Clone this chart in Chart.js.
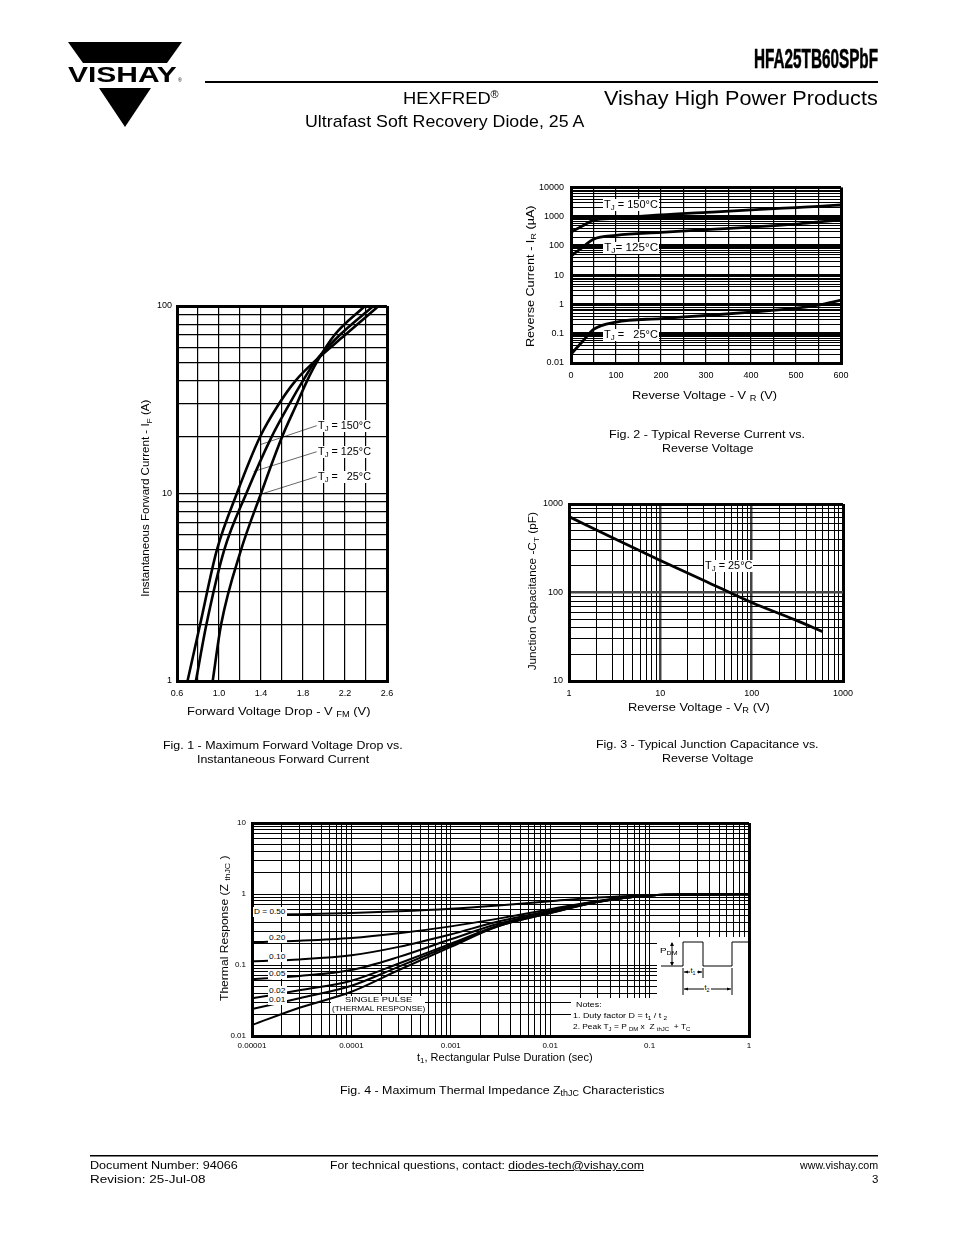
<!DOCTYPE html>
<html>
<head>
<meta charset="utf-8">
<title>HFA25TB60SPbF</title>
<script src="https://cdn.jsdelivr.net/npm/chart.js@4.4.1/dist/chart.umd.min.js"></script>
<style>
  html, body { margin: 0; padding: 0; background: #fff; }
  body { position: relative; width: 954px; height: 1235px; overflow: hidden;
         font-family: "Liberation Sans", Arial, Helvetica, sans-serif; color: #000; }
  canvas { position: absolute; }
  svg.deco { position: absolute; left: 0; top: 0; }
  .t { position: absolute; white-space: nowrap; line-height: 1; }
  .t sub { font-size: 0.72em; vertical-align: -0.3em; line-height: 0; }
  .t sup { font-size: 0.6em; vertical-align: 0.6em; line-height: 0; }
  .bg { background: #fff; padding: 1px 1px; }
</style>
</head>
<body>

<canvas id="fig1"></canvas>
<canvas id="fig2"></canvas>
<canvas id="fig3"></canvas>
<canvas id="fig4"></canvas>

<svg class="deco" width="954" height="1235">
  <!-- logo -->
  <polygon points="68,42 182,42 167,63 83,63" fill="#000"/>
  <polygon points="99,88 151,88 125,127" fill="#000"/>
  <!-- rules -->
  <rect x="205" y="81" width="673" height="2" fill="#000"/>
  <rect x="90" y="1155" width="788" height="1.5" fill="#000"/>
  <!-- pulse sketch -->
  <g stroke="#000" stroke-width="1" fill="none">
    <polyline points="661,966 683,966 683,942 703,942 703,966 732,966 732,942 748,942"/>
    <line x1="672" y1="943" x2="672" y2="965"/>
    <line x1="683" y1="968" x2="683" y2="995"/>
    <line x1="703" y1="968" x2="703" y2="978"/>
    <line x1="732" y1="968" x2="732" y2="995"/>
    <line x1="684" y1="972" x2="702" y2="972"/>
    <line x1="684" y1="989" x2="731" y2="989"/>
  </g>
  <g fill="#000">
    <polygon points="672,942 670,946 674,946"/>
    <polygon points="672,966 670,962 674,962"/>
    <polygon points="684,972 688,970.5 688,973.5"/>
    <polygon points="702,972 698,970.5 698,973.5"/>
    <polygon points="684,989 688,987.5 688,990.5"/>
    <polygon points="731,989 727,987.5 727,990.5"/>
  </g>
</svg>

<!-- header -->
<div class="t" style="font-size:22px;font-weight:bold" data-x="68" data-y="75" data-w="109">VISHAY</div>
<div class="t" style="font-size:5px" data-x="178" data-y="80">®</div>
<div class="t" style="font-size:27px;font-weight:bold;-webkit-text-stroke:0.6px #000" data-x="878" data-y="59" data-w="124" data-a="r">HFA25TB60SPbF</div>
<div class="t" style="font-size:21px" data-x="878" data-y="97" data-w="274" data-a="r">Vishay High Power Products</div>
<div class="t" style="font-size:17px" data-x="403" data-y="98" data-w="96">HEXFRED<sup>®</sup></div>
<div class="t" style="font-size:17px" data-x="305" data-y="121" data-w="279">Ultrafast Soft Recovery Diode, 25 A</div>

<!-- fig 1 texts -->
<div class="t" style="font-size:11.5px" data-x="278" data-y="712" data-w="183" data-a="c">Forward Voltage Drop - V <sub>FM</sub> (V)</div>
<div class="t" style="font-size:10.5px" data-x="145" data-y="498" data-w="197" data-r="1">Instantaneous Forward Current - I<sub>F</sub> (A)</div>
<div class="t bg" style="font-size:10px" data-x="317" data-y="426" data-w="55">T<sub>J</sub> = 150°C</div>
<div class="t bg" style="font-size:10px" data-x="317" data-y="452" data-w="55">T<sub>J</sub> = 125°C</div>
<div class="t bg" style="font-size:10px" data-x="317" data-y="477" data-w="55">T<sub>J</sub> = &nbsp; 25°C</div>
<div class="t" style="font-size:11.5px" data-x="283" data-y="746" data-w="240" data-a="c">Fig. 1 - Maximum Forward Voltage Drop vs.</div>
<div class="t" style="font-size:11.5px" data-x="283" data-y="760" data-w="172" data-a="c">Instantaneous Forward Current</div>

<!-- fig 2 texts -->
<div class="t" style="font-size:11.5px" data-x="704" data-y="396" data-w="145" data-a="c">Reverse Voltage - V <sub>R</sub> (V)</div>
<div class="t" style="font-size:10.5px" data-x="530" data-y="276" data-w="142" data-r="1">Reverse Current - I<sub>R</sub> (µA)</div>
<div class="t bg" style="font-size:10px" data-x="603" data-y="205" data-w="56">T<sub>J</sub> = 150°C</div>
<div class="t bg" style="font-size:10px" data-x="603" data-y="248" data-w="56">T<sub>J</sub>= 125°C</div>
<div class="t bg" style="font-size:10px" data-x="603" data-y="335" data-w="56">T<sub>J</sub> = &nbsp; 25°C</div>
<div class="t" style="font-size:11.5px" data-x="707" data-y="435" data-w="196" data-a="c">Fig. 2 - Typical Reverse Current vs.</div>
<div class="t" style="font-size:11.5px" data-x="707" data-y="449" data-w="91" data-a="c">Reverse Voltage</div>

<!-- fig 3 texts -->
<div class="t" style="font-size:11.5px" data-x="699" data-y="708" data-w="142" data-a="c">Reverse Voltage - V<sub>R</sub> (V)</div>
<div class="t" style="font-size:10.5px" data-x="532" data-y="591" data-w="158" data-r="1">Junction Capacitance -C<sub>T</sub> (pF)</div>
<div class="t bg" style="font-size:10px" data-x="704" data-y="566" data-w="49">T<sub>J</sub> = 25°C</div>
<div class="t" style="font-size:11.5px" data-x="707" data-y="745" data-w="223" data-a="c">Fig. 3 - Typical Junction Capacitance vs.</div>
<div class="t" style="font-size:11.5px" data-x="707" data-y="759" data-w="91" data-a="c">Reverse Voltage</div>

<!-- fig 4 texts -->
<div class="t" style="font-size:10.5px" data-x="505" data-y="1057" data-w="176" data-a="c">t<sub>1</sub>, Rectangular Pulse Duration (sec)</div>
<div class="t" style="font-size:10.5px" data-x="224" data-y="928" data-w="145" data-r="1">Thermal Response (Z <sub>thJC</sub> )</div>
<div class="t bg" style="font-size:7.5px" data-x="253" data-y="912" data-w="34">D = 0.50</div>
<div class="t bg" style="font-size:7.5px" data-x="268" data-y="938" data-w="19">0.20</div>
<div class="t bg" style="font-size:7.5px" data-x="268" data-y="957" data-w="19">0.10</div>
<div class="t bg" style="font-size:7.5px" data-x="268" data-y="974" data-w="19">0.05</div>
<div class="t bg" style="font-size:7.5px" data-x="268" data-y="991" data-w="19">0.02</div>
<div class="t bg" style="font-size:7.5px" data-x="268" data-y="1000" data-w="19">0.01</div>
<div class="t" style="font-size:7.5px" data-x="378" data-y="1000" data-w="67" data-a="c">SINGLE PULSE</div>
<div class="t" style="font-size:7.5px" data-x="378" data-y="1009" data-w="93" data-a="c">(THERMAL RESPONSE)</div>
<div class="t" style="font-size:7.5px" data-x="576" data-y="1005" data-w="26">Notes:</div>
<div class="t" style="font-size:7.5px" data-x="573" data-y="1016" data-w="94">1. Duty factor D = t<sub>1</sub> / t <sub>2</sub></div>
<div class="t" style="font-size:7.5px" data-x="573" data-y="1027" data-w="117">2. Peak T<sub>J</sub> = P <sub>DM</sub> x &nbsp;Z <sub>thJC</sub> &nbsp;+ T<sub>C</sub></div>
<div class="t" style="font-size:7.5px" data-x="660" data-y="951" data-w="17">P<sub>DM</sub></div>
<div class="t bg" style="font-size:7.5px" data-x="693" data-y="971" data-a="c">t<sub>1</sub></div>
<div class="t bg" style="font-size:7.5px" data-x="707" data-y="988" data-a="c">t<sub>2</sub></div>
<div class="t" style="font-size:11.5px" data-x="502" data-y="1091" data-w="325" data-a="c">Fig. 4 - Maximum Thermal Impedance Z<sub>thJC</sub> Characteristics</div>

<!-- footer -->
<div class="t" style="font-size:11.5px" data-x="90" data-y="1166" data-w="148">Document Number: 94066</div>
<div class="t" style="font-size:11.5px" data-x="90" data-y="1180" data-w="115">Revision: 25-Jul-08</div>
<div class="t" style="font-size:11.5px" data-x="330" data-y="1166" data-w="314">For technical questions, contact: <u>diodes-tech@vishay.com</u></div>
<div class="t" style="font-size:11.5px" data-x="878" data-y="1166" data-w="78" data-a="r">www.vishay.com</div>
<div class="t" style="font-size:11.5px" data-x="878" data-y="1180" data-a="r">3</div>

<script>
// ---------- Fig. 1 : forward voltage drop vs. forward current ----------
const fig1Current = [1, 2, 5, 10, 20, 30, 40, 50, 70, 100];
const fig1V150 = [0.70, 0.82, 0.98, 1.17, 1.39, 1.57, 1.73, 1.90, 2.20, 2.52];
const fig1V125 = [0.78, 0.88, 1.05, 1.26, 1.50, 1.67, 1.80, 1.91, 2.15, 2.47];
const fig1V25  = [0.94, 1.02, 1.21, 1.40, 1.60, 1.74, 1.84, 1.93, 2.10, 2.39];
const fig1XGrid = [0.6, 0.8, 1.0, 1.2, 1.4, 1.6, 1.8, 2.0, 2.2, 2.4, 2.6];
const fig1XLabels = ['0.6', '1.0', '1.4', '1.8', '2.2', '2.6'];
const fig1YLabels = ['1', '10', '100'];
// leader lines: label anchor (V, I) -> point on curve (V, I)
const fig1Leaders = [[1.93, 23.0, 1.39, 18.2], [1.93, 16.7, 1.33, 13.1], [1.93, 12.3, 1.41, 9.96]];

// ---------- Fig. 2 : reverse current vs. reverse voltage ----------
const fig2Voltage = [0, 25, 50, 100, 200, 300, 400, 500, 550, 600];
const fig2I150 = [300, 480, 750, 880, 1150, 1400, 1700, 2050, 2250, 2500];
const fig2I125 = [45, 88, 170, 230, 290, 360, 440, 560, 660, 780];
const fig2I25  = [0.02, 0.053, 0.14, 0.25, 0.33, 0.42, 0.55, 0.75, 0.95, 1.4];
const fig2XGrid = [0, 50, 100, 150, 200, 250, 300, 350, 400, 450, 500, 550, 600];
const fig2XLabels = ['0', '100', '200', '300', '400', '500', '600'];
const fig2YLabels = ['0.01', '0.1', '1', '10', '100', '1000', '10000'];

// ---------- Fig. 3 : junction capacitance vs. reverse voltage ----------
const fig3Voltage = [1, 3, 10, 30, 100, 300, 600];
const fig3Cap = [720, 415, 230, 137, 77, 49, 36];
const fig3XLabels = ['1', '10', '100', '1000'];
const fig3YLabels = ['10', '100', '1000'];

// ---------- Fig. 4 : thermal impedance ----------
const fig4Time = [1e-5, 3e-5, 1e-4, 3e-4, 1e-3, 3e-3, 1e-2, 3e-2, 1e-1, 3e-1, 1];
const fig4D50 = [0.51, 0.52, 0.54, 0.57, 0.62, 0.69, 0.79, 0.89, 0.96, 0.985, 0.99];
const fig4D20 = [0.21, 0.22, 0.24, 0.28, 0.35, 0.45, 0.61, 0.80, 0.955, 0.985, 0.99];
const fig4D10 = [0.113, 0.12, 0.137, 0.18, 0.27, 0.41, 0.58, 0.79, 0.955, 0.985, 0.99];
const fig4D05 = [0.063, 0.07, 0.085, 0.13, 0.23, 0.38, 0.56, 0.78, 0.955, 0.985, 0.99];
const fig4D02 = [0.034, 0.044, 0.06, 0.105, 0.20, 0.36, 0.55, 0.78, 0.955, 0.985, 0.99];
const fig4D01 = [0.024, 0.034, 0.051, 0.095, 0.19, 0.355, 0.54, 0.77, 0.955, 0.985, 0.99];
const fig4Single = [0.0143, 0.025, 0.042, 0.085, 0.18, 0.35, 0.54, 0.77, 0.955, 0.985, 0.99];
const fig4XLabels = ['0.00001', '0.0001', '0.001', '0.01', '0.1', '1'];
const fig4YLabels = ['0.01', '0.1', '1', '10'];

// ---------- helpers ----------
Chart.defaults.font.family = '"Liberation Sans", Arial, Helvetica, sans-serif';
Chart.defaults.color = '#000';

const PAD = { l: 46, t: 12, r: 24, b: 24 };

function logGrid(lo, hi) {
  const v = [];
  for (let e = lo; e < hi; e++)
    for (let s = 1; s < 10; s++) v.push(+(s * Math.pow(10, e)).toPrecision(3));
  v.push(Math.pow(10, hi));
  return v;
}
function isDecade(v) {
  const l = Math.log10(v);
  return Math.abs(l - Math.round(l)) < 1e-9;
}
function same(a, b) {
  return b === 0 ? Math.abs(a) < 1e-12 : Math.abs(a / b - 1) < 1e-6;
}
function labelFor(v, labels) {
  const s = labels.find(l => same(v, Number(l)));
  return s === undefined ? '' : s;
}
function gridWidth(min, max, minor, decade, edge) {
  return ctx => {
    const v = ctx.tick ? ctx.tick.value : NaN;
    if (same(v, min) || same(v, max)) return edge;
    if (decade && v > 0 && isDecade(v)) return decade;
    return minor;
  };
}
function gridColor(min, max, decadeColor) {
  return ctx => {
    const v = ctx.tick ? ctx.tick.value : NaN;
    if (decadeColor && v > 0 && isDecade(v) && !same(v, min) && !same(v, max)) return decadeColor;
    return '#000';
  };
}
function axis(o) {
  const left = o.pos === 'left';
  return {
    type: o.type, position: o.pos, min: o.min, max: o.max,
    afterBuildTicks: s => { s.ticks = o.grid.map(v => ({ value: v })); },
    afterFit: s => { if (left) s.width = PAD.l; else s.height = PAD.b; },
    ticks: {
      autoSkip: false, maxRotation: 0, minRotation: 0, padding: o.pad,
      font: { size: o.font }, color: '#000',
      callback: v => labelFor(v, o.labels)
    },
    grid: {
      drawTicks: false,
      lineWidth: gridWidth(o.min, o.max, o.minor || 1, o.decade, 3),
      color: gridColor(o.min, o.max, o.decadeColor)
    },
    border: { color: '#000', width: 3 }
  };
}
function curve(xs, ys, w) {
  return {
    data: xs.map((x, i) => ({ x: x, y: ys[i] })),
    borderColor: '#000', borderWidth: w, pointRadius: 0,
    cubicInterpolationMode: 'monotone', fill: false
  };
}
const leaderPlugin = {
  id: 'leaders',
  afterDatasetsDraw(chart, args, opts) {
    if (!opts.lines) return;
    const { ctx, scales: { x, y } } = chart;
    ctx.save();
    ctx.strokeStyle = '#000';
    ctx.lineWidth = 0.6;
    opts.lines.forEach(([x1, y1, x2, y2]) => {
      ctx.beginPath();
      ctx.moveTo(x.getPixelForValue(x1), y.getPixelForValue(y1));
      ctx.lineTo(x.getPixelForValue(x2), y.getPixelForValue(y2));
      ctx.stroke();
    });
    ctx.restore();
  }
};
// white panels over the grid (page coordinates), painted before the curves
const whiteoutPlugin = {
  id: 'whiteout',
  beforeDatasetsDraw(chart, args, opts) {
    if (!opts.boxes) return;
    const ctx = chart.ctx;
    ctx.save();
    ctx.fillStyle = '#fff';
    opts.boxes.forEach(([l, t, w, h]) => ctx.fillRect(l - opts.ox, t - opts.oy, w, h));
    ctx.restore();
  }
};
function makeChart(id, rect, datasets, xAxis, yAxis, extra) {
  extra = extra || {};
  const cv = document.getElementById(id);
  cv.width = rect.r - rect.l + PAD.l + PAD.r;
  cv.height = rect.b - rect.t + PAD.t + PAD.b;
  const ox = rect.l - PAD.l, oy = rect.t - PAD.t;
  cv.style.left = ox + 'px';
  cv.style.top = oy + 'px';
  return new Chart(cv.getContext('2d'), {
    type: 'line',
    data: { datasets: datasets },
    options: {
      responsive: false, animation: false, devicePixelRatio: 1, events: [],
      layout: { padding: { left: 0, top: PAD.t, right: PAD.r, bottom: 0 } },
      plugins: {
        legend: { display: false }, tooltip: { enabled: false },
        leaders: { lines: extra.leaders },
        whiteout: { boxes: extra.boxes, ox: ox, oy: oy }
      },
      scales: { x: xAxis, y: yAxis }
    },
    plugins: [whiteoutPlugin, leaderPlugin]
  });
}

// ---------- charts ----------
makeChart('fig1', { l: 177, t: 306, r: 387, b: 681 },
  [curve(fig1V150, fig1Current, 2.6), curve(fig1V125, fig1Current, 2.6), curve(fig1V25, fig1Current, 2.6)],
  axis({ type: 'linear', pos: 'bottom', min: 0.6, max: 2.6, grid: fig1XGrid, labels: fig1XLabels, font: 9, pad: 7, minor: 1.2 }),
  axis({ type: 'logarithmic', pos: 'left', min: 1, max: 100, grid: logGrid(0, 2), labels: fig1YLabels, font: 9, pad: 5, minor: 1.2 }),
  { leaders: fig1Leaders });

makeChart('fig2', { l: 571, t: 187, r: 841, b: 363 },
  [curve(fig2Voltage, fig2I150, 2.8), curve(fig2Voltage, fig2I125, 2.8), curve(fig2Voltage, fig2I25, 2.8)],
  axis({ type: 'linear', pos: 'bottom', min: 0, max: 600, grid: fig2XGrid, labels: fig2XLabels, font: 9, pad: 7, minor: 1.2 }),
  axis({ type: 'logarithmic', pos: 'left', min: 0.01, max: 10000, grid: logGrid(-2, 4), labels: fig2YLabels, font: 9, pad: 7, minor: 1, decade: 3 }));

makeChart('fig3', { l: 569, t: 504, r: 843, b: 681 },
  [curve(fig3Voltage, fig3Cap, 2.8)],
  axis({ type: 'logarithmic', pos: 'bottom', min: 1, max: 1000, grid: logGrid(0, 3), labels: fig3XLabels, font: 9, pad: 7, minor: 1, decade: 2.5, decadeColor: '#444' }),
  axis({ type: 'logarithmic', pos: 'left', min: 10, max: 1000, grid: logGrid(1, 3), labels: fig3YLabels, font: 9, pad: 6, minor: 1, decade: 2.5, decadeColor: '#444' }));

makeChart('fig4', { l: 252, t: 823, r: 749, b: 1036 },
  [fig4D50, fig4D20, fig4D10, fig4D05, fig4D02, fig4D01, fig4Single].map(s => curve(fig4Time, s, 2)),
  axis({ type: 'logarithmic', pos: 'bottom', min: 1e-5, max: 1, grid: logGrid(-5, 0), labels: fig4XLabels, font: 8, pad: 5, minor: 1 }),
  axis({ type: 'logarithmic', pos: 'left', min: 0.01, max: 10, grid: logGrid(-2, 1), labels: fig4YLabels, font: 8, pad: 6, minor: 1 }),
  { boxes: [[657, 937, 91, 62], [571, 998, 177, 37], [331, 996, 94, 18]] });

// ---------- place the page texts ----------
document.querySelectorAll('.t').forEach(el => {
  const x = +el.dataset.x, y = +el.dataset.y;
  const nat = el.offsetWidth, h = el.offsetHeight;
  const k = el.dataset.w ? +el.dataset.w / nat : 1;
  if (el.dataset.r) {
    el.style.left = (x - nat / 2) + 'px';
    el.style.top = (y - h / 2) + 'px';
    el.style.transformOrigin = '50% 50%';
    el.style.transform = 'rotate(-90deg) scaleX(' + k + ')';
  } else {
    const w = nat * k;
    const a = el.dataset.a || 'l';
    el.style.left = (a === 'c' ? x - w / 2 : a === 'r' ? x - w : x) + 'px';
    el.style.top = (y - h / 2) + 'px';
    el.style.transformOrigin = '0 0';
    el.style.transform = 'scaleX(' + k + ')';
  }
});
</script>
</body>
</html>
